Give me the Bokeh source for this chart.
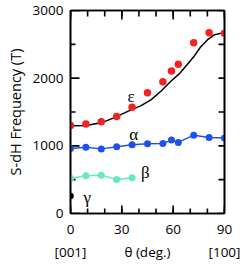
from bokeh.plotting import figure
from bokeh.models import LinearAxis, FixedTicker, Range1d
from bokeh.core.properties import value
from bokeh.embed import file_html
from bokeh.resources import INLINE

# ---- data ----
theta_eps = [0, 9, 18, 27, 36, 45, 54, 59, 63, 72, 81, 90]
freq_eps = [1302, 1321, 1355, 1433, 1570, 1784, 1948, 2107, 2204, 2522, 2671, 2663]

theta_alpha = [0, 9, 18, 27, 36, 45, 54, 59, 63, 72, 81, 90]
freq_alpha = [959, 978, 955, 985, 1017, 1032, 1036, 1085, 1051, 1158, 1123, 1114]

theta_beta = [0, 9, 18, 27, 36]
freq_beta = [521, 559, 566, 504, 530]

theta_gamma = [0]
freq_gamma = [258]

theta_fit = [0, 9, 18, 26, 35, 41, 47, 53, 58.5, 64, 68, 72, 76, 80, 84, 88, 90]
freq_fit = [1295, 1302, 1340, 1420, 1528, 1590, 1680, 1810, 1950, 2075, 2195, 2315,
            2460, 2565, 2640, 2665, 2667]

band_names = ["ε", "α", "β", "γ"]
band_label_theta = [35.4, 36.9, 43.7, 9.8]
band_label_freq = [1722, 1166, 612, 236]

x_major = [0, 30, 60, 90]
x_minor = [0, 10, 20, 30, 40, 50, 60, 70, 80, 90]
y_major = [0, 1000, 2000, 3000]
y_minor = [500, 1500, 2500]
x_text_ticks = [0, 45, 90]
x_text_labels = ["[001]", "θ (deg.)", "[100]"]
y_title = "S-dH Frequency (T)"

FONT = "Open Sans"
TICK_SIZE = "13.5px"
TICK_W = 1.6
FRAME_W = 1.6

W, H = 250, 272
B_LEFT, B_RIGHT, B_TOP, B_BOTTOM = 70, 26, 10, 59

p = figure(width=W, height=H,
           x_range=Range1d(x_major[0], x_major[-1]),
           y_range=Range1d(y_major[0], y_major[-1]),
           output_backend="svg", toolbar_location=None,
           min_border_left=B_LEFT, min_border_right=B_RIGHT,
           min_border_top=B_TOP, min_border_bottom=B_BOTTOM)
p.grid.visible = False
p.outline_line_color = "black"
p.outline_line_width = FRAME_W
p.background_fill_color = "white"
p.border_fill_color = "white"


def style(ax, show_labels=True):
    ax.axis_line_color = "black"
    ax.axis_line_width = FRAME_W
    ax.major_tick_in = 0
    ax.major_tick_out = 0
    ax.minor_tick_in = 0
    ax.minor_tick_out = 0
    ax.major_tick_line_color = None
    ax.minor_tick_line_color = None
    if show_labels:
        ax.major_label_text_font = FONT
        ax.major_label_text_font_size = TICK_SIZE
        ax.major_label_text_color = "black"
        ax.major_label_standoff = 7
    else:
        ax.major_label_text_font_size = "0px"
        ax.major_label_standoff = 0
        ax.major_label_text_color = None


xt = FixedTicker(ticks=x_major, minor_ticks=x_minor)
yt = FixedTicker(ticks=y_major, minor_ticks=y_minor)

bottom = p.xaxis[0]
bottom.ticker = xt
style(bottom)
bottom.major_label_standoff = 11

bottom2 = LinearAxis(ticker=FixedTicker(ticks=x_text_ticks, minor_ticks=[]),
                     major_label_overrides=dict(zip(x_text_ticks, x_text_labels)))
style(bottom2)
bottom2.axis_line_color = None
bottom2.major_label_standoff = 6
p.add_layout(bottom2, "below")

top = LinearAxis(ticker=xt)
style(top, show_labels=False)
p.add_layout(top, "above")

left = p.yaxis[0]
left.ticker = yt
style(left)
left.axis_label = y_title
left.axis_label_text_font = FONT
left.axis_label_text_font_size = "14.5px"
left.axis_label_text_font_style = "normal"
left.axis_label_text_color = "black"
left.axis_label_standoff = 5

right = LinearAxis(ticker=yt)
style(right, show_labels=False)
p.add_layout(right, "right")

# inward tick marks: segments from each frame edge, length given in pixels
x0, x1 = x_major[0], x_major[-1]
y0, y1 = y_major[0], y_major[-1]
dx = (x1 - x0) / (W - B_LEFT - B_RIGHT)    # data units per pixel (x)
dy = (y1 - y0) / (H - B_TOP - B_BOTTOM)    # data units per pixel (y)
seg_kw = dict(line_color="black", line_width=TICK_W)


def vticks(xs, ybase, npx, sign):
    p.segment(x0=xs, y0=[ybase] * len(xs), x1=xs,
              y1=[ybase + sign * npx * dy] * len(xs), **seg_kw)


def hticks(ys, xbase, npx, sign):
    p.segment(x0=[xbase] * len(ys), y0=ys,
              x1=[xbase + sign * npx * dx] * len(ys), y1=ys, **seg_kw)


vticks(x_minor, y0, 5, 1)
vticks(x_major, y0, 8, 1)
vticks(x_minor, y1, 6, -1)
vticks(x_major, y1, 9, -1)
hticks(y_minor, x0, 5, 1)
hticks(y_major, x0, 9, 1)
hticks(y_minor, x1, 6, -1)
hticks(y_major, x1, 6, -1)

# fit curve
p.line(theta_fit, freq_fit, line_color="black", line_width=1.5)

# bands
p.scatter(theta_eps, freq_eps, size=7.5, fill_color="#f52222", line_color=None)
p.line(theta_alpha, freq_alpha, line_color="#1e50f0", line_width=1.5)
p.scatter(theta_alpha, freq_alpha, size=7, fill_color="#1e50f0", line_color=None)
p.line(theta_beta, freq_beta, line_color="#66e8c4", line_width=1.5)
p.scatter(theta_beta, freq_beta, size=7, fill_color="#66e8c4", line_color=None)
p.scatter(theta_gamma, freq_gamma, size=6.5, fill_color="black", line_color=None)

p.text(x=band_label_theta, y=band_label_freq, text=band_names,
       text_font=value("Liberation Serif"), text_font_size="17px",
       text_align="center", text_baseline="alphabetic", text_color="black")

open("out.html", "w").write(file_html(p, INLINE))
